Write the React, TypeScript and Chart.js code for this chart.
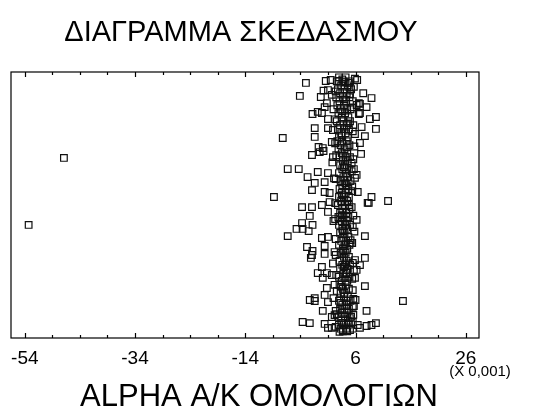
import React, { useEffect, useRef } from "react";
import { Chart, registerables } from "chart.js";

Chart.register(...registerables);

const chartTitle = "ΔΙΑΓΡΑΜΜΑ ΣΚΕΔΑΣΜΟΥ";
const xAxisTitle = "ALPHA A/K ΟΜΟΛΟΓΙΩΝ";
const xScaleNote = "(X 0,001)";

const xMin = -56.5;
const xMax = 28.4;
const yMin = 0;
const yMax = 100;

const majorTicks = [-54, -34, -14, 6, 26];
const minorTicks = [-49, -44, -39, -29, -24, -19, -9, -4, 1, 11, 16, 21];

// dense central column
const corePoints: [number, number][] = [
  [3.0, 98], [4.2, 98],
  [2.6, 96.5], [3.8, 96.5], [5.0, 96.5],
  [3.4, 95], [4.6, 95],
  [2.8, 93.5], [4.0, 93.5], [5.2, 93.5],
  [3.2, 92], [4.4, 92],
  [2.5, 90.5], [3.7, 90.5], [4.9, 90.5],
  [3.1, 89], [4.3, 89], [5.5, 89],
  [2.7, 87.5], [3.9, 87.5],
  [3.3, 86], [4.5, 86], [5.1, 86],
  [2.9, 84.5], [4.1, 84.5],
  [3.5, 83], [4.7, 83],
  [2.6, 81.5], [3.8, 81.5], [5.0, 81.5],
  [3.2, 80], [4.4, 80],
  [2.8, 78.5], [3.9, 78.5], [4.8, 78.5],
  [3.4, 77], [4.2, 77],
  [3.0, 75.5], [4.6, 75.5],
  [2.7, 74], [3.6, 74], [4.4, 74],
  [3.3, 72.5], [4.9, 72.5],
  [2.9, 71], [4.0, 71],
  [3.5, 69.5], [4.5, 69.5],
  [3.1, 68], [4.2, 68], [5.0, 68],
  [3.7, 66.5], [4.6, 66.5],
  [3.2, 65], [4.1, 65],
  [3.6, 63.5], [4.8, 63.5],
  [3.0, 62], [4.3, 62],
  [3.8, 60.5], [4.5, 60.5],
  [3.3, 59], [4.0, 59], [5.1, 59],
  [3.6, 57.5], [4.4, 57.5],
  [3.1, 56], [4.7, 56],
  [3.5, 54.5], [4.2, 54.5],
  [3.0, 53], [3.9, 53], [4.8, 53],
  [3.4, 51.5], [4.5, 51.5],
  [2.8, 50], [4.1, 50],
  [3.6, 48.5], [4.9, 48.5],
  [3.2, 47], [4.3, 47],
  [2.9, 45.5], [3.8, 45.5], [4.7, 45.5],
  [3.5, 44], [4.4, 44],
  [3.0, 42.5], [4.1, 42.5], [5.0, 42.5],
  [3.6, 41], [4.5, 41],
  [3.2, 39.5], [4.0, 39.5],
  [3.8, 38], [4.7, 38],
  [3.4, 36.5], [4.3, 36.5],
  [3.0, 35], [4.0, 35], [4.9, 35],
  [3.7, 33.5], [4.5, 33.5],
  [3.3, 32], [4.2, 32],
  [3.9, 30.5], [4.8, 30.5],
  [3.1, 29], [4.4, 29],
  [3.6, 27.5], [4.1, 27.5], [5.0, 27.5],
  [3.2, 26], [4.6, 26],
  [3.8, 24.5], [4.3, 24.5],
  [3.0, 23], [4.0, 23], [4.9, 23],
  [3.5, 21.5], [4.5, 21.5],
  [3.1, 20], [4.2, 20],
  [3.7, 18.5], [4.8, 18.5],
  [3.3, 17], [4.0, 17],
  [3.9, 15.5], [4.6, 15.5],
  [3.0, 14], [4.3, 14], [5.1, 14],
  [3.6, 12.5], [4.4, 12.5],
  [3.2, 11], [4.0, 11], [4.8, 11],
  [3.5, 9.5], [4.5, 9.5],
  [2.9, 8], [4.1, 8], [5.2, 8],
  [3.4, 6.5], [4.6, 6.5],
  [3.0, 5], [3.9, 5], [4.8, 5],
  [3.3, 3.5], [4.3, 3.5], [5.5, 3.5],
  [3.7, 2.5], [4.5, 2.5],
];

// extra column points, between the rows above
const coreFillPoints: [number, number][] = [
  [3.6, 97.2], [4.9, 94.2], [2.4, 92.7], [4.0, 89.7], [5.4, 86.7], [3.6, 85.2],
  [2.3, 82.2], [4.7, 80.7], [5.5, 77.7], [3.5, 76.2], [2.3, 73.2], [4.4, 71.7],
  [2.5, 68.7], [5.6, 67.2], [3.9, 64.2], [5.3, 62.7], [2.4, 59.7], [4.2, 58.2],
  [5.4, 55.2], [3.6, 53.7], [2.3, 50.7], [5.3, 49.2], [3.5, 46.2], [2.3, 44.7],
  [5.5, 41.7], [3.7, 40.2], [2.4, 37.2], [5.4, 35.7], [3.8, 32.7], [2.4, 31.2],
  [5.5, 28.2], [3.9, 26.7], [2.5, 23.7], [5.4, 22.2], [3.4, 19.2], [2.6, 17.7],
  [5.6, 14.7], [3.3, 13.2], [2.4, 10.2], [5.6, 8.7], [3.6, 5.7], [2.4, 4.2],
  [5.0, 3.0],
];

// points scattered around the column
const spreadPoints: [number, number][] = [
  [-3.0, 95.9], [0.6, 96.6], [3.0, 96.6], [4.05, 96.2], [4.8, 95.9], [5.7, 94.4],
  [-4.1, 91], [-0.3, 90.6], [1.0, 93.2], [1.7, 91.4], [8.9, 90.2],
  [0.8, 88.3], [0.4, 86.8], [-0.1, 84.6], [6.6, 88.3], [6.2, 87.6], [8.0, 86.8],
  [-1.8, 84.2], [-0.85, 85], [1.0, 82.3], [6.8, 84.6], [8.6, 82.3], [9.7, 83.1],
  [-1.4, 78.9], [1.0, 78.9], [1.9, 78.2], [9.7, 78.6], [7.1, 79.3], [7.7, 75.9], [5.9, 76.7],
  [-7.2, 75.2], [-1.4, 75.6], [1.7, 73.7], [0.06, 71.4], [-0.5, 69.9], [0.2, 70.3],
  [6.8, 73.3], [7.0, 69.2], [-1.9, 68.8], [1.9, 68], [-0.7, 71.8],
  [-6.3, 63.5], [-4.3, 63.5], [-2.7, 60.5], [-0.85, 62.4], [1.0, 62], [6.2, 61.3], [5.9, 60.2],
  [5.3, 65.8], [5.7, 63.5], [-1.4, 58.3], [0.4, 58.6], [-1.9, 55.6], [0.4, 54.9], [1.3, 54.5],
  [6.4, 54.9], [-8.8, 53], [8.9, 53], [11.9, 51.5], [8.2, 50.8], [8.4, 50.8],
  [-3.7, 49.2], [-1.9, 49.2], [-0.1, 50], [1.0, 47.4], [1.3, 51.1], [4.8, 50],
  [-2.3, 45.9], [-3.7, 43.2], [-1.8, 42.5], [-4.7, 41], [-3.6, 41], [-2.5, 40.2],
  [-6.3, 38.3], [-0.1, 37.6], [1.0, 38], [7.7, 38.3], [6.2, 44.4], [5.1, 36.8], [5.1, 35.7],
  [-2.8, 34.2], [-1.8, 32.7], [-1.9, 31.2], [-2.1, 30.1], [0.4, 34.6], [0.4, 31.6], [2.2, 32.3],
  [7.7, 30.1], [5.9, 29.3], [6.8, 27.4], [-0.1, 26.7], [-0.85, 24.4], [0.06, 22.6], [0.8, 24.4],
  [1.7, 23.7], [6.2, 25.6], [5.9, 22.6], [7.7, 19.5], [0.8, 18.8], [0.4, 16.2],
  [-2.3, 14.3], [-1.4, 15], [-1.4, 13.9], [1.0, 13.5], [6.0, 14.3], [14.6, 13.9],
  [5.5, 11.7], [0.06, 10.2], [8.0, 10.2], [1.7, 7.9], [2.2, 8.6],
  [-3.6, 6], [-2.3, 5.6], [0.4, 5.3], [1.0, 3.8], [1.7, 3.8],
  [4.96, 7.5], [5.5, 6], [6.4, 4.9], [6.8, 3.8], [8.0, 4.5], [8.9, 4.9], [9.7, 5.6],
  [3.1, 2.3], [3.7, 3.0], [2.6, 9.0], [4.4, 24.4], [5.7, 25.6], [6.6, 84.2], [6.8, 88], [5.0, 91.7],
  [5.6, 80], [5.8, 72], [5.4, 57], [5.6, 46], [5.8, 40], [5.5, 18], [5.7, 12],
  [2.0, 86], [1.8, 66], [2.1, 60], [2.0, 44], [1.9, 28], [2.2, 20], [2.0, 15],
  [6.3, 97], [1.5, 97], [0.2, 93], [7.4, 92], [5.9, 97.5],
];

const outlierPoints: [number, number][] = [
  [-46.9, 67.7],
  [-53.3, 42.5],
];

const FONT = "'Liberation Sans', Arial, sans-serif";

const framePlugin = {
  id: "frame",
  afterDraw(chart: any) {
    const { ctx, chartArea } = chart;
    const xs = chart.scales.x;
    const { left, right, top, bottom } = chartArea;
    ctx.save();
    ctx.strokeStyle = "#000";
    ctx.lineWidth = 1.2;
    ctx.strokeRect(left, top, right - left, bottom - top);
    const drawTick = (v: number, len: number) => {
      const px = Math.round(xs.getPixelForValue(v)) + 0.5;
      ctx.beginPath();
      ctx.moveTo(px, top);
      ctx.lineTo(px, top + len);
      ctx.moveTo(px, bottom);
      ctx.lineTo(px, bottom - len);
      ctx.stroke();
    };
    majorTicks.forEach((v) => drawTick(v, 5));
    minorTicks.forEach((v) => drawTick(v, 3));

    ctx.fillStyle = "#000";
    ctx.textAlign = "center";
    ctx.textBaseline = "alphabetic";
    ctx.font = `19px ${FONT}`;
    majorTicks.forEach((v) => {
      ctx.fillText(String(v), xs.getPixelForValue(v), 364);
    });
    ctx.font = `15px ${FONT}`;
    ctx.fillText(xScaleNote, 480, 376);
    ctx.font = `31px ${FONT}`;
    ctx.fillText(xAxisTitle, 259, 406);
    ctx.font = `29px ${FONT}`;
    ctx.fillText(chartTitle, 241, 41);
    ctx.restore();
  },
};

const squareStyle = {
  pointStyle: "rect" as const,
  pointRadius: 4.7,
  borderColor: "#111",
  backgroundColor: "rgba(0,0,0,0)",
  borderWidth: 1.2,
};

export default function App() {
  const ref = useRef<HTMLCanvasElement | null>(null);
  useEffect(() => {
    document.body.style.margin = "0";
    const canvas = ref.current;
    if (!canvas) return;
    const toData = (arr: [number, number][]) => arr.map(([x, y]) => ({ x, y }));
    const chart = new Chart(canvas, {
      type: "scatter",
      data: {
        datasets: [
          { label: "core", data: toData(corePoints), ...squareStyle },
          { label: "coreFill", data: toData(coreFillPoints), ...squareStyle },
          { label: "spread", data: toData(spreadPoints), ...squareStyle },
          { label: "outliers", data: toData(outlierPoints), ...squareStyle },
        ],
      },
      options: {
        responsive: false,
        animation: false,
        layout: { padding: { left: 11, right: 58, top: 72, bottom: 70 } },
        plugins: {
          legend: { display: false },
          tooltip: { enabled: false },
          title: { display: false },
        },
        scales: {
          x: { type: "linear", min: xMin, max: xMax, display: false },
          y: { type: "linear", min: yMin, max: yMax, display: false },
        },
      },
      plugins: [framePlugin],
    });
    return () => chart.destroy();
  }, []);
  return (
    <div style={{ position: "fixed", left: 0, top: 0, width: 537, height: 408, background: "#fff" }}>
      <canvas ref={ref} width={537} height={408} />
    </div>
  );
}
